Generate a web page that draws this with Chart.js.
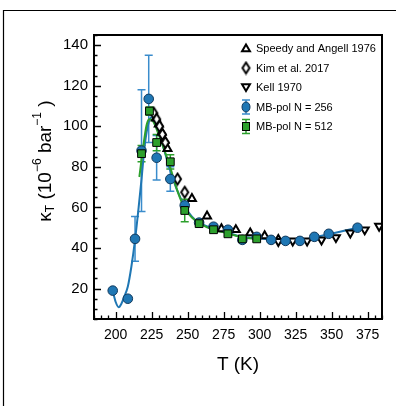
<!DOCTYPE html>
<html>
<head>
<meta charset="utf-8">
<script src="https://cdn.jsdelivr.net/npm/chart.js@4.4.0/dist/chart.umd.min.js"></script>
<style>
html, body { margin: 0; padding: 0; background: #fff; }
#wrap { position: relative; width: 396px; height: 406px; }
</style>
</head>
<body>
<div id="wrap"><canvas id="chart_1" width="396" height="406"></canvas></div>
<script>
// MB-pol N = 256 (circles) and N = 512 (squares), with error bars
const blue_t = [198, 208.5, 213.5, 218, 223, 228.5, 238, 248, 258, 268, 278, 288, 298, 308, 318, 328, 338, 348, 368]
const blue_k = [19, 15, 44.5, 88, 113.5, 84.5, 74, 61, 52.5, 50.5, 49, 44, 45.5, 44, 43.5, 43.5, 45.5, 47, 50]
const blue_err = [0, 0, 11, 30, 21.5, 11, 6, 1.5, 1, 1, 1, 1, 1, 1, 1, 1, 1, 1, 1]

const green_t = [218, 223.5, 228.5, 238, 248, 258, 268, 278, 288, 298]
const green_k = [86.5, 107.5, 92, 82.5, 58.5, 52, 49, 47, 44.5, 44.5]
const green_err = [4, 2, 4, 3.5, 5.5, 1, 1, 1, 1, 1]

// fitted curves
const blue_fit_t = [198, 200, 202.2, 204, 206, 208.5, 211, 213.5, 216, 218, 220.3, 223, 225, 228.5, 233, 238, 243, 248, 253, 258, 268, 278, 288, 298, 308, 318, 328, 338, 348, 358, 368]
const blue_fit_k = [19, 13.5, 10.8, 12.5, 16, 21, 31, 44, 60, 74, 91, 102, 104.5, 100, 90, 78, 68, 60.5, 55.5, 52.5, 49.5, 47.5, 45.5, 44.8, 44.2, 43.7, 43.8, 45.2, 46.8, 48.4, 50]
const green_fit_t = [216.5, 219.2, 221.5, 223.3, 226, 229.6, 233, 237.8, 243, 248, 253, 258, 268, 278, 288, 298]
const green_fit_k = [75, 90, 100.5, 103.5, 102.5, 96.5, 90, 80, 68, 59.5, 55, 52.3, 49, 47.2, 45.2, 44.5]

// experiments
const speedy_t = [228, 230, 232, 234, 236, 253, 263.5, 273.5, 283.5, 293.5, 303.5, 313]
const speedy_k = [104, 101, 97, 93, 89, 64.3, 55.7, 49.4, 49, 47.4, 46, 44.2]
const kim_t = [226.5, 228.5, 230.5, 232.5, 234.5, 243, 248]
const kim_k = [106.5, 103.5, 100, 96, 92, 74, 67.5]
const kell_t = [313, 323, 333, 343, 353, 363, 373, 383]
const kell_k = [43.3, 43.5, 43.5, 44, 45.2, 47.5, 49, 50.8]

const x_ticks = [200, 225, 250, 275, 300, 325, 350, 375]
const y_ticks = [20, 40, 60, 80, 100, 120, 140]

const legend_labels = ["Speedy and Angell 1976", "Kim et al. 2017", "Kell 1970", "MB-pol N = 256", "MB-pol N = 512"]

const BLUE = "#1f77b4"
const GREEN = "#2ca02c"
const FONT = "'Liberation Sans', Arial, sans-serif"

function pts(xs, ys){
    return xs.map((x, i) => ({x: x, y: ys[i]}))
}

function make_diamond(w, h, lw){
    const c = document.createElement("canvas")
    c.width = w + 4
    c.height = h + 4
    const g = c.getContext("2d")
    const cx = c.width / 2, cy = c.height / 2
    g.beginPath()
    g.moveTo(cx, cy - h / 2)
    g.lineTo(cx + w / 2, cy)
    g.lineTo(cx, cy + h / 2)
    g.lineTo(cx - w / 2, cy)
    g.closePath()
    g.fillStyle = "#fff"
    g.fill()
    g.lineWidth = lw
    g.strokeStyle = "#000"
    g.stroke()
    return c
}
const diamond = make_diamond(7, 11, 2)

function draw_tri(ctx, x, y, r, down){
    const s = down ? -1 : 1
    ctx.beginPath()
    ctx.moveTo(x, y - s * r)
    ctx.lineTo(x + r * 0.866, y + s * r * 0.5)
    ctx.lineTo(x - r * 0.866, y + s * r * 0.5)
    ctx.closePath()
    ctx.fillStyle = "#fff"
    ctx.fill()
    ctx.lineWidth = 2
    ctx.strokeStyle = "#000"
    ctx.stroke()
}

function draw_errbar(ctx, x, y1, y2, color){
    ctx.strokeStyle = color
    ctx.lineWidth = 1.5
    ctx.beginPath()
    ctx.moveTo(x, y1); ctx.lineTo(x, y2)
    ctx.moveTo(x - 4, y1); ctx.lineTo(x + 4, y1)
    ctx.moveTo(x - 4, y2); ctx.lineTo(x + 4, y2)
    ctx.stroke()
}

const deco_plugin = {
    id: "deco",
    beforeDraw(chart){
        const ctx = chart.ctx
        ctx.save()
        ctx.fillStyle = "#fff"
        ctx.fillRect(0, 0, chart.width, chart.height)
        ctx.strokeStyle = "#000"
        ctx.lineWidth = 1.2
        ctx.beginPath()
        ctx.moveTo(3.5, chart.height)
        ctx.lineTo(3.5, 10.5)
        ctx.lineTo(chart.width, 10.5)
        ctx.stroke()
        ctx.restore()
    },
    beforeDatasetsDraw(chart){
        const ctx = chart.ctx
        const xs = chart.scales.x, ys = chart.scales.y
        ctx.save()
        blue_t.forEach((t, i) => {
            if(blue_err[i] <= 0) return
            draw_errbar(ctx, xs.getPixelForValue(t), ys.getPixelForValue(blue_k[i] + blue_err[i]), ys.getPixelForValue(blue_k[i] - blue_err[i]), "#3a8ccc")
        })
        green_t.forEach((t, i) => {
            if(green_err[i] <= 0) return
            draw_errbar(ctx, xs.getPixelForValue(t), ys.getPixelForValue(green_k[i] + green_err[i]), ys.getPixelForValue(green_k[i] - green_err[i]), GREEN)
        })
        ctx.restore()
    },
    afterDraw(chart){
        const ctx = chart.ctx
        const a = chart.chartArea
        const xs = chart.scales.x, ys = chart.scales.y
        ctx.save()
        // spines
        ctx.strokeStyle = "#000"
        ctx.lineWidth = 2
        ctx.strokeRect(a.left, a.top, a.right - a.left, a.bottom - a.top)
        // inward ticks
        ctx.lineWidth = 1.3
        ctx.beginPath()
        for(let v = 185; v <= 385; v += 5){
            const px = Math.round(xs.getPixelForValue(v)) + 0.5
            const len = x_ticks.includes(v) ? 7 : 3.5
            ctx.moveTo(px, a.bottom); ctx.lineTo(px, a.bottom - len)
        }
        for(let v = 5; v <= 145; v += 5){
            const py = Math.round(ys.getPixelForValue(v)) + 0.5
            const len = y_ticks.includes(v) ? 7 : 3.5
            ctx.moveTo(a.left, py); ctx.lineTo(a.left + len, py)
        }
        ctx.stroke()

        // x title
        ctx.fillStyle = "#000"
        ctx.textAlign = "center"
        ctx.textBaseline = "middle"
        ctx.font = "19px " + FONT
        ctx.fillText("T (K)", (a.left + a.right) / 2, 365)

        // y title with sub/superscripts
        const parts = [
            {t: "\u03ba", s: 19, dy: 0},
            {t: "T", s: 12, dy: 5},
            {t: " (10", s: 19, dy: 0},
            {t: "\u22126", s: 12, dy: -8},
            {t: " bar", s: 19, dy: 0},
            {t: "\u22121", s: 12, dy: -8},
            {t: " )", s: 19, dy: 0}
        ]
        let total = 0
        parts.forEach(p => { ctx.font = p.s + "px " + FONT; p.w = ctx.measureText(p.t).width; total += p.w })
        ctx.translate(46, 161)
        ctx.rotate(-Math.PI / 2)
        ctx.textAlign = "left"
        ctx.textBaseline = "middle"
        let cx = -total / 2
        parts.forEach(p => {
            ctx.font = p.s + "px " + FONT
            ctx.fillText(p.t, cx, p.dy)
            cx += p.w
        })
        ctx.setTransform(1, 0, 0, 1, 0, 0)

        // legend
        const rows = [48, 68, 87.5, 107, 126.5]
        const mx = 246, tx = 256
        draw_tri(ctx, mx, rows[0] + 1, 4.6, false)
        ctx.drawImage(diamond, mx - diamond.width / 2, rows[1] - diamond.height / 2)
        draw_tri(ctx, mx, rows[2] - 1, 4.6, true)
        draw_errbar(ctx, mx, rows[3] - 7, rows[3] + 7, "#3a8ccc")
        ctx.beginPath()
        ctx.ellipse(mx, rows[3], 4, 5, 0, 0, Math.PI * 2)
        ctx.fillStyle = BLUE
        ctx.fill()
        ctx.lineWidth = 1
        ctx.strokeStyle = "#123a5e"
        ctx.stroke()
        draw_errbar(ctx, mx, rows[4] - 7, rows[4] + 7, GREEN)
        ctx.fillStyle = GREEN
        ctx.fillRect(mx - 3.5, rows[4] - 4, 7, 8)
        ctx.lineWidth = 1
        ctx.strokeStyle = "#000"
        ctx.strokeRect(mx - 3.5, rows[4] - 4, 7, 8)
        ctx.fillStyle = "#000"
        ctx.font = "11px " + FONT
        ctx.textAlign = "left"
        ctx.textBaseline = "middle"
        legend_labels.forEach((l, i) => ctx.fillText(l, tx, rows[i] + 0.5))
        ctx.restore()
    }
}

const ctx_1 = document.getElementById("chart_1").getContext("2d")

const config_1 = {
    type: "scatter",
    data: {
        datasets: [
            {
                data: pts(blue_fit_t, blue_fit_k),
                showLine: true,
                borderColor: BLUE,
                borderWidth: 2,
                pointRadius: 0,
                cubicInterpolationMode: "monotone",
                order: 10
            },
            {
                data: pts(green_fit_t, green_fit_k),
                showLine: true,
                borderColor: GREEN,
                borderWidth: 2,
                pointRadius: 0,
                cubicInterpolationMode: "monotone",
                order: 9
            },
            {
                label: legend_labels[0],
                data: pts(speedy_t, speedy_k),
                pointStyle: "triangle",
                pointRadius: 4.6,
                backgroundColor: "#fff",
                borderColor: "#000",
                borderWidth: 2,
                order: 6
            },
            {
                label: legend_labels[1],
                data: pts(kim_t, kim_k),
                pointStyle: diamond,
                order: 5
            },
            {
                label: legend_labels[2],
                data: pts(kell_t, kell_k),
                pointStyle: "triangle",
                rotation: 180,
                pointRadius: 4.6,
                backgroundColor: "#fff",
                borderColor: "#000",
                borderWidth: 2,
                order: 4
            },
            {
                label: legend_labels[3],
                data: pts(blue_t, blue_k),
                pointStyle: "circle",
                pointRadius: 4.8,
                backgroundColor: BLUE,
                borderColor: "#123a5e",
                borderWidth: 1,
                order: 2
            },
            {
                label: legend_labels[4],
                data: pts(green_t, green_k),
                pointStyle: "rect",
                pointRadius: 5.5,
                backgroundColor: GREEN,
                borderColor: "#000",
                borderWidth: 1,
                order: 1
            }
        ]
    },
    options: {
        responsive: false,
        animation: false,
        events: [],
        layout: {padding: {left: 0, top: 35, right: 14, bottom: 0}},
        plugins: {legend: {display: false}, tooltip: {enabled: false}},
        scales: {
            x: {
                type: "linear",
                min: 185,
                max: 385,
                afterFit: s => { s.height = 87 },
                afterBuildTicks: s => { s.ticks = x_ticks.map(v => ({value: v})) },
                grid: {display: false, drawTicks: false},
                border: {display: false},
                ticks: {color: "#000", padding: 8, maxRotation: 0, autoSkip: false, font: {family: FONT, size: 14}}
            },
            y: {
                type: "linear",
                min: 5,
                max: 145,
                afterFit: s => { s.width = 94 },
                afterBuildTicks: s => { s.ticks = y_ticks.map(v => ({value: v})) },
                grid: {display: false, drawTicks: false},
                border: {display: false},
                ticks: {color: "#000", padding: 6, autoSkip: false, font: {family: FONT, size: 15}}
            }
        }
    },
    plugins: [deco_plugin]
}
const chart_1 = new Chart(ctx_1, config_1)
</script>
</body>
</html>
